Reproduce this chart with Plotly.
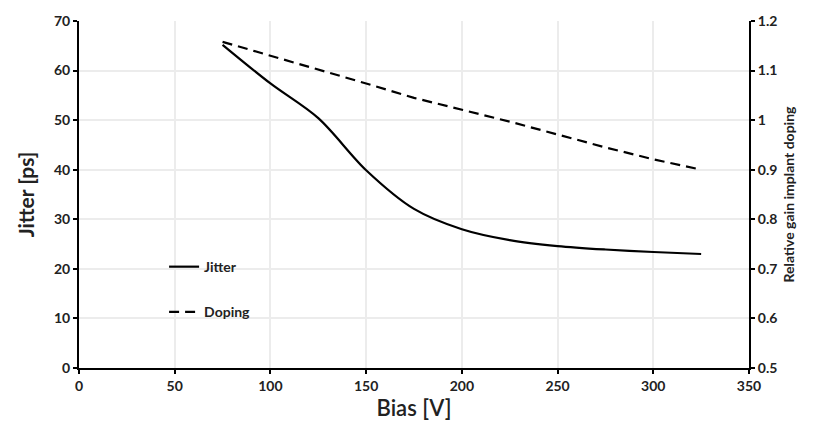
import plotly.graph_objects as go

bias = [75, 100, 125, 150, 175, 200, 225, 250, 275, 300, 325]
jitter = [65.2, 57.4, 50.4, 39.9, 32.1, 28.0, 25.8, 24.6, 23.9, 23.4, 23.0]
doping = [1.158, 1.130, 1.103, 1.074, 1.045, 1.021, 0.997, 0.971, 0.945, 0.921, 0.900]

FONT = "Lato"

fig = go.Figure()
fig.add_trace(go.Scatter(x=bias, y=jitter, name="Jitter", mode="lines",
                         line=dict(color="black", width=2.2, shape="spline", smoothing=0.9),
                         legendgroup="a"))
fig.add_trace(go.Scatter(x=bias, y=doping, name="Doping", mode="lines", yaxis="y2",
                         line=dict(color="black", width=2.2, dash="10px,6px"),
                         legendgroup="b"))

tickfont = dict(family=FONT, size=14, color="#222", weight="bold")
fig.update_layout(
    width=816, height=434,
    margin=dict(l=79, r=67, t=19, b=66),
    paper_bgcolor="white", plot_bgcolor="white",
    font=dict(family=FONT, color="#222"),
    xaxis=dict(range=[0, 350], dtick=50, showgrid=True, gridcolor="#ececec", gridwidth=1.5,
               showline=True, linecolor="black", linewidth=2, ticks="outside", ticklen=4,
               tickcolor="black", tickwidth=1.5, tickfont=tickfont, zeroline=False,
               title=dict(text="Bias [V]", font=dict(family=FONT, size=22, color="#222", weight=600), standoff=8)),
    yaxis=dict(range=[0, 70], dtick=10, showgrid=True, gridcolor="#ececec", gridwidth=1.5,
               showline=True, linecolor="black", linewidth=2, ticks="outside", ticklen=4,
               tickcolor="black", tickwidth=1.5, tickfont=tickfont, zeroline=False,
               title=dict(text="Jitter [ps]", font=dict(family=FONT, size=21, color="#222", weight="bold"), standoff=14)),
    yaxis2=dict(range=[0.5, 1.2], dtick=0.1, overlaying="y", side="right", showgrid=False,
                showline=True, linecolor="black", linewidth=2, ticks="outside", ticklen=4,
                tickcolor="black", tickwidth=1.5, tickfont=tickfont, zeroline=False,
                title=dict(text="Relative gain implant doping", font=dict(family=FONT, size=14, color="#222", weight="bold"), standoff=8)),
    legend=dict(x=0.127, y=0.337, xanchor="left", yanchor="top", bgcolor="rgba(0,0,0,0)",
                font=dict(family=FONT, size=14, color="#222", weight="bold"), tracegroupgap=24,
                traceorder="grouped", itemwidth=30),
    showlegend=True,
)
fig.write_html("out.html")
